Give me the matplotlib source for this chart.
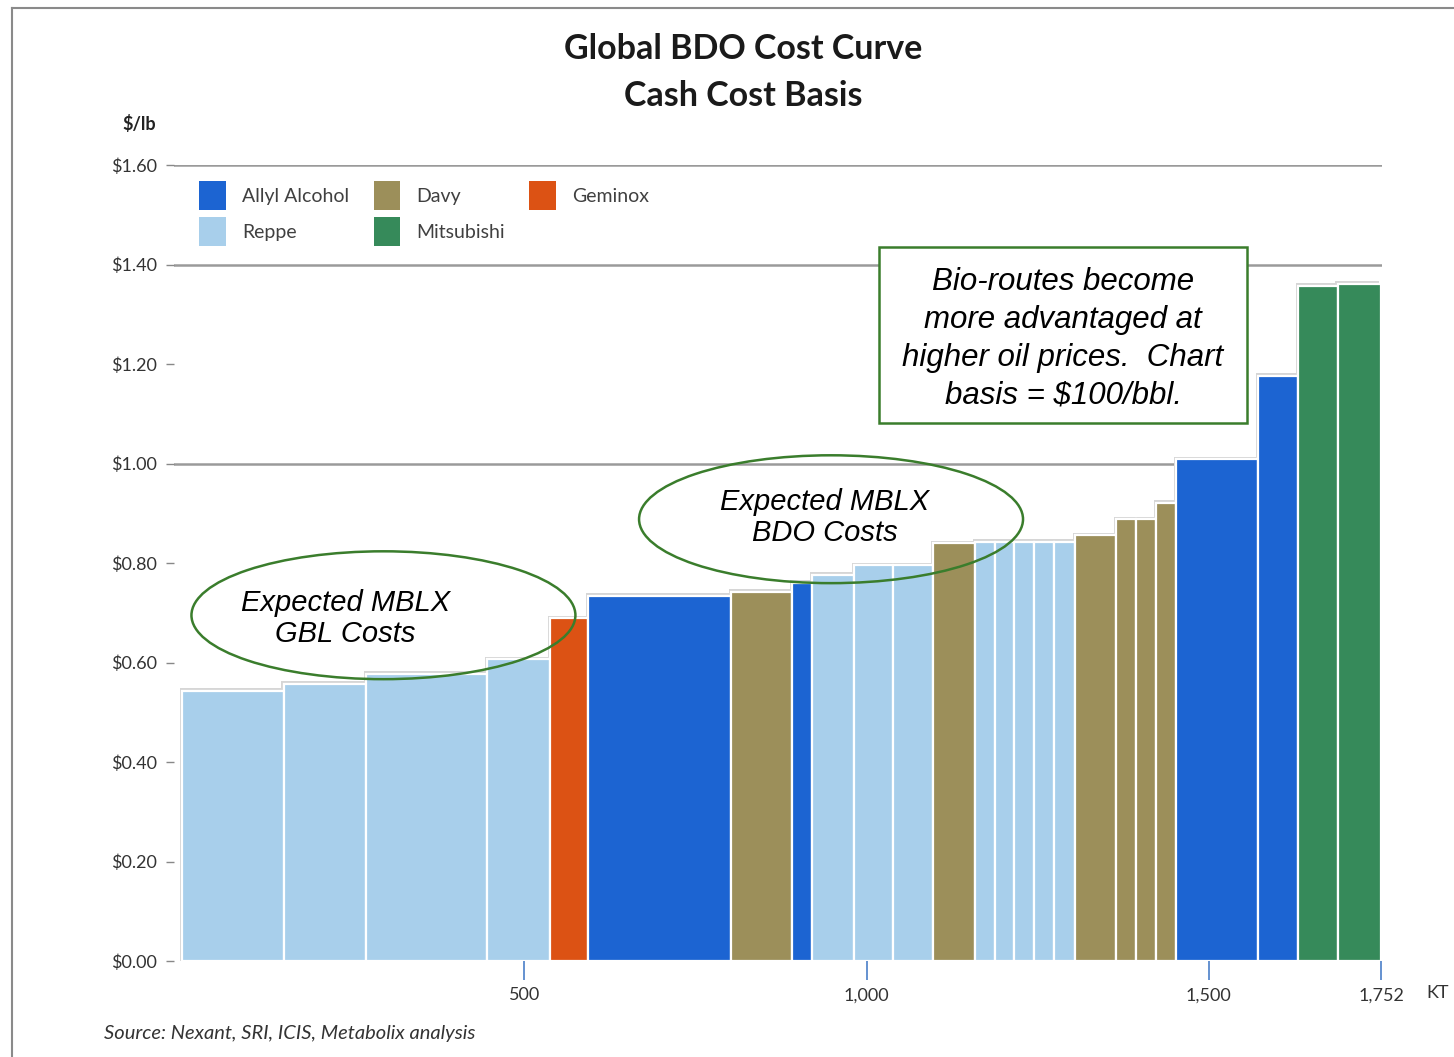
import numpy as np
import matplotlib
matplotlib.use("Agg")
import matplotlib.pyplot as plt
from matplotlib.patches import Patch, Ellipse, Rectangle
from matplotlib.lines import Line2D

# ---------------- data ----------------
producers = ["Reppe", "Reppe", "Reppe", "Reppe", "Geminox", "Allyl Alcohol", "Davy",
             "Allyl Alcohol", "Reppe", "Reppe", "Reppe", "Davy",
             "Reppe", "Reppe", "Reppe", "Reppe", "Reppe",
             "Davy", "Davy", "Davy", "Davy",
             "Allyl Alcohol", "Allyl Alcohol", "Mitsubishi", "Mitsubishi"]
capacity_kt = [148, 120, 178, 91, 56, 209, 89,
               29, 61, 58, 58, 61,
               29, 29, 29, 29, 31,
               60, 29, 29, 29,
               120, 58, 58, 64]
cash_cost = [0.543, 0.557, 0.577, 0.607, 0.689, 0.734, 0.742,
             0.760, 0.776, 0.796, 0.796, 0.840,
             0.843, 0.843, 0.843, 0.843, 0.843,
             0.856, 0.888, 0.888, 0.921,
             1.009, 1.176, 1.357, 1.361]
legend_order = ["Allyl Alcohol", "Reppe", "Davy", "Mitsubishi", "Geminox"]
colors = {"Allyl Alcohol": "#1c64d2", "Reppe": "#a8cfeb", "Davy": "#9c8f5a",
          "Geminox": "#dc5214", "Mitsubishi": "#368a5a"}
y_ticks = [0.0, 0.2, 0.4, 0.6, 0.8, 1.0, 1.2, 1.4, 1.6]
grid_levels = [1.0, 1.4, 1.6]
x_ticks = [500, 1000, 1500, 1752]
x_ticklabels = ["500", "1,000", "1,500", "1,752"]

# ---------------- figure ----------------
W, H = 1454, 1057
fig = plt.figure(figsize=(W / 100, H / 100), dpi=100)
ax = fig.add_axes([174 / W, (H - 961) / H, (1382 - 174) / W, (961 - 165) / H])
ax.set_xlim(-12, 1753)
ax.set_ylim(0, 1.6)

cap = np.array(capacity_kt, dtype=float)
left = np.concatenate([[0], np.cumsum(cap)[:-1]])
bar_colors = [colors[p] for p in producers]

# subtle shadow behind bars (offset up/left)
ax.bar(left - 3.0, np.array(cash_cost) + 0.005, width=cap, align="edge",
       color="#d6d6d6", edgecolor="none", zorder=2)
ax.bar(left, cash_cost, width=cap, align="edge", color=bar_colors,
       edgecolor="white", linewidth=1.6, zorder=3)

for g in grid_levels:
    ax.axhline(g, color="#9a9a9a", linewidth=1.8, zorder=1)

for s in ax.spines.values():
    s.set_visible(False)

ax.set_yticks(y_ticks)
ax.set_yticklabels(["$%.2f" % v for v in y_ticks], fontsize=13,
                   color="#333333", family="Lato")
ax.tick_params(axis="y", length=6, width=1, color="#888888", pad=6)
ax.set_xticks(x_ticks)
ax.set_xticklabels(x_ticklabels, fontsize=13, color="#333333", family="Lato")
ax.tick_params(axis="x", length=14, width=1.2, color="#4a7fc8", pad=5)
ax.text(1.046, -0.040, "KT", transform=ax.transAxes, fontsize=13,
        color="#333333", family="Lato", ha="center", va="center")

# legend
handles = [Patch(facecolor=colors[p], edgecolor="none") for p in legend_order]
leg = ax.legend(handles, legend_order, ncol=3, loc="upper left",
                bbox_to_anchor=(0.021, 0.980), frameon=False,
                prop={"family": "Lato", "size": 14}, handlelength=1.35,
                handleheight=1.9, handletextpad=0.85, columnspacing=1.25,
                labelspacing=0.4, borderpad=0, borderaxespad=0)
for t in leg.get_texts():
    t.set_color("#404040")

# annotations
green = "#3a7d2c"
ell1 = Ellipse((294, 0.695), 561, 0.257, facecolor="none", edgecolor=green,
               linewidth=1.8, zorder=5)
ell2 = Ellipse((948, 0.888), 561, 0.257, facecolor="none", edgecolor=green,
               linewidth=1.8, zorder=5)
ax.add_patch(ell1)
ax.add_patch(ell2)
ax.text(238, 0.689, "Expected MBLX\nGBL Costs", ha="center", va="center",
        fontsize=21, style="italic", family="Liberation Sans",
        linespacing=1.15, zorder=6)
ax.text(939, 0.892, "Expected MBLX\nBDO Costs", ha="center", va="center",
        fontsize=21, style="italic", family="Liberation Sans",
        linespacing=1.15, zorder=6)
box = Rectangle((1018, 1.081), 538, 0.354, facecolor="white", edgecolor=green,
                linewidth=1.8, zorder=5)
ax.add_patch(box)
ax.text(1287, 1.250, "Bio-routes become\nmore advantaged at\nhigher oil prices.  Chart\nbasis = $100/bbl.",
        ha="center", va="center", fontsize=22.5, style="italic",
        family="Liberation Sans", linespacing=1.34, zorder=6)

# titles and labels
fig.text(743 / W, 1 - 49 / H, "Global BDO Cost Curve", ha="center", va="center",
         fontsize=24.5, weight="bold", family="Lato", color="#1a1a1a")
fig.text(743 / W, 1 - 96 / H, "Cash Cost Basis", ha="center", va="center",
         fontsize=24.5, weight="bold", family="Lato", color="#1a1a1a")
fig.text(139 / W, 1 - 124 / H, "$/lb", ha="center", va="center",
         fontsize=13, weight="bold", family="Lato", color="#222222")
fig.text(104 / W, 1 - 1034 / H, "Source: Nexant, SRI, ICIS, Metabolix analysis",
         ha="left", va="center", fontsize=14.5, style="italic", family="Lato",
         color="#333333")

# frame lines (top and left)
fig.add_artist(Line2D([12 / W, 1], [1 - 8 / H, 1 - 8 / H], color="#8a8a8a",
                      linewidth=1.5, transform=fig.transFigure))
fig.add_artist(Line2D([12 / W, 12 / W], [0, 1 - 8 / H], color="#8a8a8a",
                      linewidth=1.5, transform=fig.transFigure))

fig.savefig("out.png", dpi=100)
